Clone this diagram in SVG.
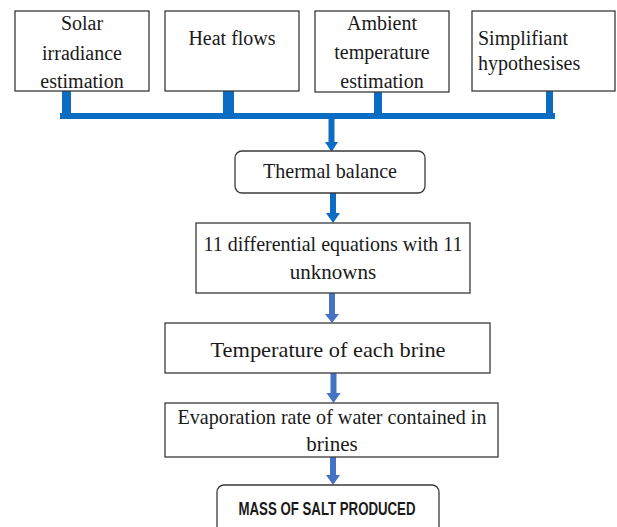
<svg xmlns="http://www.w3.org/2000/svg" width="617" height="527" viewBox="0 0 617 527">
<style>
.box{fill:#fff;stroke:#3a3a3a;stroke-width:1.3}
.t{font-family:"Liberation Serif","Times New Roman",serif;font-size:20px;fill:#1a1a1a;text-anchor:middle}
.big{font-size:21px}
.b1{fill:#0a6cc2}
.b2{fill:#4472c4}
</style>
<rect width="617" height="527" fill="#fff"/>
<g id="connectors">
<rect class="b1" x="62" y="91" width="9" height="23"/>
<rect class="b1" x="223" y="88" width="11" height="26"/>
<rect class="b1" x="374" y="92" width="8" height="22"/>
<rect class="b1" x="546" y="91" width="7" height="23"/>
<rect class="b1" x="60" y="113" width="495" height="6"/>
<rect class="b1" x="328.5" y="119" width="6" height="24"/>
<polygon class="b1" points="325,142 338,142 331.5,152"/>
<rect class="b1" x="330" y="193" width="6" height="21"/>
<polygon class="b1" points="326,213 340,213 333,223"/>
<rect class="b2" x="329" y="293" width="6" height="22"/>
<polygon class="b2" points="325,314 339,314 332,323"/>
<rect class="b2" x="330.5" y="373" width="6" height="21"/>
<polygon class="b2" points="326.5,393 340.5,393 333.5,403"/>
<rect class="b2" x="330" y="457" width="6" height="19"/>
<polygon class="b2" points="326,475 340,475 333,485"/>
</g>
<g id="n1">
<rect class="box" x="15" y="11" width="134" height="80"/>
<text class="t" x="82" y="30">Solar</text>
<text class="t" x="82" y="60">irradiance</text>
<text class="t" x="82" y="88">estimation</text>
</g>
<g id="n2">
<rect class="box" x="165" y="11" width="134" height="80"/>
<text class="t" x="232" y="45">Heat flows</text>
</g>
<g id="n3">
<rect class="box" x="315" y="11" width="134" height="81"/>
<text class="t" x="382" y="30">Ambient</text>
<text class="t" x="382" y="59">temperature</text>
<text class="t" x="382" y="88">estimation</text>
</g>
<g id="n4">
<rect class="box" x="472" y="11" width="143" height="80"/>
<text class="t" x="478" y="45" style="text-anchor:start">Simplifiant</text>
<text class="t" x="478" y="70" style="text-anchor:start">hypothesises</text>
</g>
<g id="n5">
<rect class="box" x="235" y="151" width="190" height="42" rx="7"/>
<text class="t big" x="330" y="178" textLength="134" lengthAdjust="spacingAndGlyphs">Thermal balance</text>
</g>
<g id="n6">
<rect class="box" x="196" y="223" width="274" height="70"/>
<text class="t big" x="333" y="251" textLength="259" lengthAdjust="spacingAndGlyphs">11 differential equations with 11</text>
<text class="t big" x="333" y="279">unknowns</text>
</g>
<g id="n7">
<rect class="box" x="165" y="323" width="325" height="50"/>
<text class="t big" x="328" y="357" textLength="235" lengthAdjust="spacingAndGlyphs">Temperature of each brine</text>
</g>
<g id="n8">
<rect class="box" x="165" y="403" width="333" height="54"/>
<text class="t big" x="332" y="424" textLength="309" lengthAdjust="spacingAndGlyphs">Evaporation rate of water contained in</text>
<text class="t big" x="332" y="451">brines</text>
</g>
<g id="n9">
<rect class="box" x="217" y="485" width="222" height="60" rx="7"/>
<text x="327" y="515" text-anchor="middle" font-family="Liberation Sans, Arial, sans-serif" font-weight="bold" font-size="18" fill="#1a1a1a" textLength="177" lengthAdjust="spacingAndGlyphs">MASS OF SALT PRODUCED</text>
</g>
</svg>
